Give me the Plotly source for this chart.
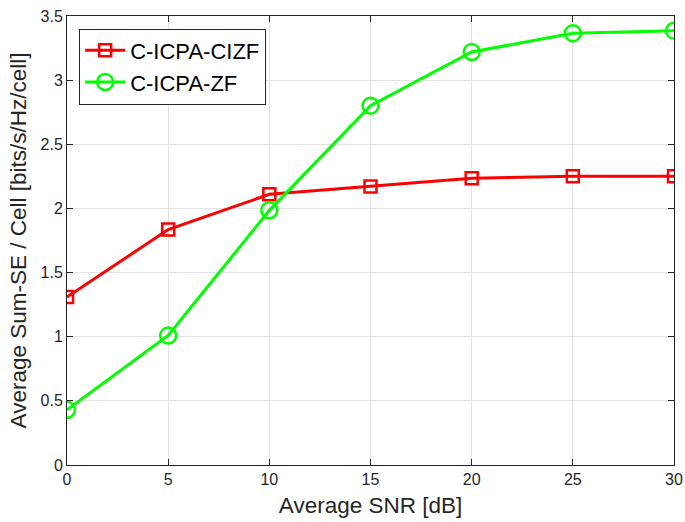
import plotly.graph_objects as go

snr_db = [0, 5, 10, 15, 20, 25, 30]
cizf = [1.31, 1.835, 2.11, 2.17, 2.235, 2.25, 2.25]
zf = [0.43, 1.01, 1.985, 2.80, 3.22, 3.365, 3.385]

FONT = "Liberation Sans, Arial"

fig = go.Figure()
fig.add_trace(go.Scatter(
    x=snr_db, y=cizf, name="C-ICPA-CIZF", mode="lines+markers",
    line=dict(color="#ff0000", width=3),
    marker=dict(symbol="square-open", size=12, color="#ff0000", line=dict(width=2.5)),
))
fig.add_trace(go.Scatter(
    x=snr_db, y=zf, name="C-ICPA-ZF", mode="lines+markers",
    line=dict(color="#00ff00", width=3),
    marker=dict(symbol="circle-open", size=16, color="#00ff00", line=dict(width=2.5)),
))

axis_common = dict(
    showline=True, linecolor="#262626", linewidth=1, mirror="ticks",
    ticks="inside", ticklen=6, tickcolor="#262626",
    showgrid=True, gridcolor="#e3e3e3", gridwidth=1, zeroline=False,
    tickfont=dict(family=FONT, size=16, color="#262626"),
    automargin=False, ticklabeloverflow="allow",
)

fig.update_xaxes(range=[0, 30], dtick=5,
                 title=dict(text="Average SNR [dB]", font=dict(family=FONT, size=22.5, color="#262626"), standoff=10),
                 **axis_common)
fig.update_yaxes(range=[0, 3.5], dtick=0.5,
                 title=dict(text="Average Sum-SE / Cell [bits/s/Hz/cell]", font=dict(family=FONT, size=22.5, color="#262626"), standoff=7),
                 **axis_common)

fig.update_layout(
    width=685, height=522,
    margin=dict(l=67, r=11, t=16, b=57),
    plot_bgcolor="white", paper_bgcolor="white",
    legend=dict(x=0.02, y=0.972, xanchor="left", yanchor="top",
                bgcolor="white", bordercolor="#262626", borderwidth=1,
                font=dict(family=FONT, size=22, color="black"),
                itemwidth=40, tracegroupgap=0),
    showlegend=True,
)

# drop the default body margin so the figure sits at the window's corner
fig.write_html("out.html", config={"displayModeBar": False},
               post_script="document.body.style.margin='0';document.body.style.overflow='hidden';")
